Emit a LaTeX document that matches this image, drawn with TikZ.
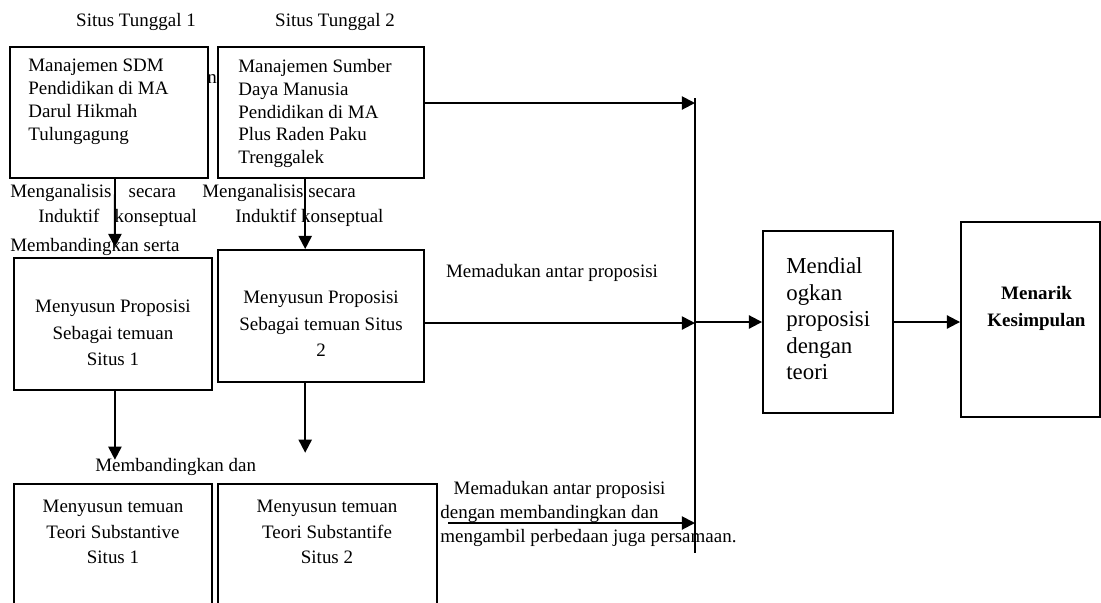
\documentclass[tikz,border=0pt]{standalone}
\usepackage{fontspec}
\setmainfont{Liberation Serif}
\usepackage{tikz}
\usetikzlibrary{arrows.meta, positioning, calc}
\tikzstyle{box} = [rectangle, draw=black, line width=1.1pt, fill=white, inner sep=0pt]
\tikzstyle{txt} = [inner sep=0pt, font=\fontsize{10.8}{13}\selectfont]
\tikzstyle{arrow} = [line width=1.1pt, -{Triangle[length=7.5pt,width=7.5pt]}]

\begin{document}
\begin{tikzpicture}[x=0.02cm, y=-0.02cm]
      \useasboundingbox (0,0) rectangle (1101,602);
      \clip (0,0) rectangle (1101,602);

      % Site headings
      \node[txt] (head1) at (136,22) {Situs Tunggal 1};
      \node[txt] (head2) at (335,22) {Situs Tunggal 2};

      % Top row
      \node[box, minimum width=3.96cm, minimum height=2.62cm] (sdm1) at (109,112.5) {};
      \node[txt, anchor=west, align=left] (sdm1txt) at (28,102) {Manajemen SDM\\Pendidikan di MA\\Darul Hikmah\\Tulungagung};
      \node[txt, anchor=west] (stray) at (207,79) {na};
      \node[box, minimum width=4.12cm, minimum height=2.62cm] (sdm2) at (321,112.5) {};
      \node[txt, anchor=west, align=left] (sdm2txt) at (238,113.5) {Manajemen Sumber\\Daya Manusia\\Pendidikan di MA\\Plus Raden Paku\\Trenggalek};

      % Analysis labels
      \node[txt, anchor=west] (anal1) at (10,193) {Menganalisis\hspace{0.9em}secara};
      \node[txt, anchor=west] (induk1) at (38,218) {Induktif\hspace{0.8em}konseptual};
      \node[txt, anchor=west] (banding1) at (10,247) {Membandingkan serta};
      \node[txt, anchor=west] (anal2) at (202,193) {Menganalisis secara};
      \node[txt, anchor=west] (induk2) at (235,218) {Induktif konseptual};

      % Middle row
      \node[box, minimum width=3.96cm, minimum height=2.64cm] (prop1) at (113,324) {};
      \node[txt, align=center, font=\fontsize{10.8}{15}\selectfont] (prop1txt) at (113,333) {Menyusun Proposisi\\Sebagai temuan\\Situs 1};
      \node[box, minimum width=4.12cm, minimum height=2.64cm] (prop2) at (321,316) {};
      \node[txt, align=center, font=\fontsize{10.8}{15}\selectfont] (prop2txt) at (321,324) {Menyusun Proposisi\\Sebagai temuan Situs\\2};
      \node[txt] (padu1) at (552,273) {Memadukan antar proposisi};

      % Bottom row
      \node[txt, anchor=west] (bandingdan) at (95,467) {Membandingkan dan};
      \node[box, minimum width=3.96cm, minimum height=3.12cm] (teori1) at (113,562) {};
      \node[txt, align=center, font=\fontsize{10.8}{14.5}\selectfont] (teori1txt) at (113,532) {Menyusun temuan\\Teori Substantive\\Situs 1};
      \node[box, minimum width=4.38cm, minimum height=3.12cm] (teori2) at (327.5,562) {};
      \node[txt, align=center, font=\fontsize{10.8}{14.5}\selectfont] (teori2txt) at (327,532) {Menyusun temuan\\Teori Substantife\\Situs 2};
      \node[txt, anchor=north west, align=left, font=\fontsize{10.8}{13.6}\selectfont] (padu2) at (440,481) {\hspace{0.7em}Memadukan antar proposisi\\dengan membandingkan dan\\mengambil perbedaan juga persamaan.};

      % Right side
      \node[box, minimum width=2.6cm, minimum height=3.64cm] (dial) at (828,322) {};
      \node[txt, anchor=west, align=left, font=\fontsize{13}{15.1}\selectfont] (dialtxt) at (786,319) {Mendial\\ogkan\\proposisi\\dengan\\teori};
      \node[box, minimum width=2.78cm, minimum height=3.9cm] (tarik) at (1030.5,319.5) {};
      \node[txt, align=center, font=\bfseries\fontsize{10.8}{15.3}\selectfont] (tariktxt) at (1036.5,308.5) {Menarik\\Kesimpulan};

      % Collecting bar
      \coordinate (bartop) at (695,98);
      \coordinate (barbot) at (695,553);
      \coordinate (padustart) at (448,523);
      \draw[line width=1.1pt] (bartop) -- (barbot);

      % Arrows
      \draw[arrow] ([xshift=3.4pt]sdm1.south) -- ([xshift=1.1pt,yshift=5.7pt]prop1.north);
      \draw[arrow] ([xshift=-9pt]sdm2.south) -- ([xshift=-9pt]prop2.north);
      \draw[arrow] ([xshift=1.1pt]prop1.south) -- ([xshift=1.1pt,yshift=-1pt]prop1.south |- bandingdan.north);
      \draw[arrow] ([xshift=-9pt]prop2.south) -- ([xshift=-9pt,yshift=3pt]prop2.south |- bandingdan.north);
      \draw[arrow] ([yshift=5.4pt]sdm2.east) -- ([yshift=5.4pt]sdm2.east -| bartop);
      \draw[arrow] ([yshift=-4pt]prop2.east) -- ([yshift=-4pt]prop2.east -| bartop);
      \draw[arrow] (padustart) -- (padustart -| bartop);
      \draw[arrow] (bartop |- dial.west) -- (dial.west);
      \draw[arrow] (dial.east) -- (dial.east -| tarik.west);
    \end{tikzpicture}
\end{document}
